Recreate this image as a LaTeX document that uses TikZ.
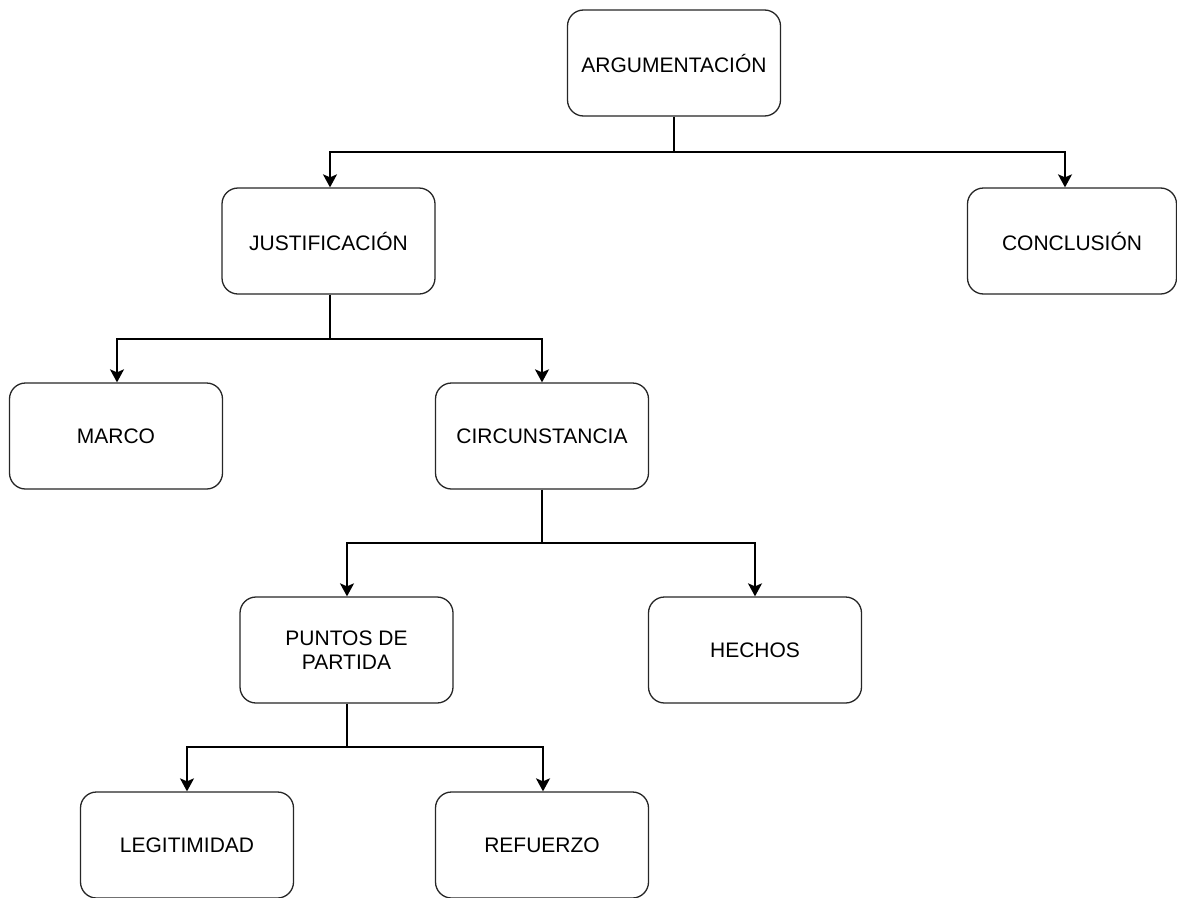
\documentclass[tikz,border=0pt]{standalone}
\usepackage{fontspec}
\setmainfont{Liberation Sans}
\usetikzlibrary{arrows.meta}
\begin{document}
\begin{tikzpicture}[x=1pt,y=-1pt,
  box/.style={draw=black!85, line width=1.3pt, rounded corners=16pt, fill=white,
    minimum width=213pt, minimum height=106pt, align=center, inner sep=2pt,
    font=\fontsize{21}{24}\selectfont},
  link/.style={draw=black, line width=1.8pt,
    -{Stealth[length=13pt,width=14pt,inset=3pt]}}]
  \useasboundingbox (0,0) rectangle (1177,897);
  \clip (0,0) rectangle (1177,897);

  % tree nodes
  \node[box] (arg)   at (674,63)    {ARGUMENTACIÓN};
  \node[box] (just)  at (328.5,241) {JUSTIFICACIÓN};
  \node[box, minimum width=209pt] (concl) at (1072,241) {CONCLUSIÓN};
  \node[box] (marco) at (116,436)   {MARCO};
  \node[box] (circ)  at (542,436)   {CIRCUNSTANCIA};
  \node[box] (pun)   at (346.5,650) {PUNTOS DE\\PARTIDA};
  \node[box] (hech)  at (755,650)   {HECHOS};
  \node[box] (legi)  at (187,845)   {LEGITIMIDAD};
  \node[box] (ref)   at (542,845)   {REFUERZO};

  % branching points
  \coordinate (b1) at (674,152);
  \coordinate (b2) at (330,339);
  \coordinate (b3) at (542,543);
  \coordinate (b4) at (347,747);

  % connectors
  \draw[line width=1.8pt] (arg.south) -- (b1);
  \draw[link] (b1) -| ([xshift=1.5pt]just.north);
  \draw[link] (b1) -| ([xshift=-7pt]concl.north);

  \draw[line width=1.8pt] ([xshift=1.5pt]just.south) -- (b2);
  \draw[link] (b2) -| ([xshift=1pt]marco.north);
  \draw[link] (b2) -| (circ.north);

  \draw[line width=1.8pt] (circ.south) -- (b3);
  \draw[link] (b3) -| ([xshift=0.5pt]pun.north);
  \draw[link] (b3) -| (hech.north);

  \draw[line width=1.8pt] ([xshift=0.5pt]pun.south) -- (b4);
  \draw[link] (b4) -| (legi.north);
  \draw[link] (b4) -| ([xshift=1pt]ref.north);
\end{tikzpicture}
\end{document}
